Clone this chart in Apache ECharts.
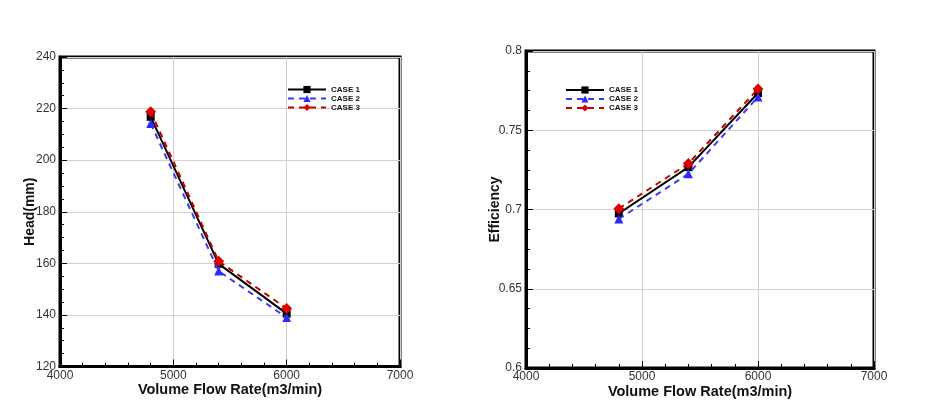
<!DOCTYPE html>
<html>
<head>
<meta charset="utf-8">
<script src="https://cdn.jsdelivr.net/npm/echarts@6/dist/echarts.min.js"></script>
<style>html,body{margin:0;padding:0;background:#fff;}#c{width:932px;height:416px;}</style>
</head>
<body>
<div id="c"></div>
<script>
const flowRates = [4800, 5400, 6000];
const caseNames = ['CASE 1', 'CASE 2', 'CASE 3'];
const headCase1 = [216.8, 159.8, 140.5];
const headCase2 = [214.2, 157.0, 139.0];
const headCase3 = [218.8, 160.8, 142.5];
const effCase1 = [0.6975, 0.7267, 0.7735];
const effCase2 = [0.694, 0.7225, 0.771];
const effCase3 = [0.7005, 0.729, 0.776];

const styles = [
  {line: '#000000', marker: '#000000', type: 'solid', symbol: 'rect', size: 8},
  {line: '#3a3af0', marker: '#2b2bff', type: [6, 5], symbol: 'triangle', size: 9},
  {line: '#c00000', marker: '#e00000', type: [6, 5], symbol: 'diamond', size: 11}
];

const font = '"Liberation Sans", Arial, sans-serif';

function pairs(xs, ys) { return xs.map((x, i) => [x, ys[i]]); }

function mkSeries(gi, vals) {
  return vals.map((v, k) => ({
    name: caseNames[k], type: 'line', xAxisIndex: gi, yAxisIndex: gi,
    data: pairs(flowRates, v), symbol: styles[k].symbol, symbolSize: styles[k].size,
    lineStyle: {color: styles[k].line, width: 2, type: styles[k].type},
    itemStyle: {color: styles[k].marker},
    z: 3 + k, animation: false
  }));
}

function xAx(gi) {
  return {
    type: 'value', gridIndex: gi, min: 4000, max: 7000, interval: 1000,
    name: 'Volume Flow Rate(m3/min)', nameLocation: 'middle', nameGap: 16, nameMoveOverlap: false,
    nameTextStyle: {fontFamily: font, fontWeight: 'bold', fontSize: 14.5, color: '#111'},
    axisLine: {show: true, lineStyle: {color: '#000', width: 3}},
    axisTick: {show: true, inside: true, length: 7, lineStyle: {color: '#000', width: 1}},
    minorTick: {show: true, splitNumber: 5, length: 4, lineStyle: {color: '#000', width: 1}},
    axisLabel: {fontFamily: font, fontSize: 12, color: '#333', margin: 3, formatter: v => String(v)},
    splitLine: {show: true, lineStyle: {color: '#d0d0d0', width: 1}}
  };
}
function yAx(gi, name, min, max, interval, gap) {
  return {
    type: 'value', gridIndex: gi, min: min, max: max, interval: interval,
    name: name, nameLocation: 'middle', nameGap: gap, nameMoveOverlap: false,
    nameTextStyle: {fontFamily: font, fontWeight: 'bold', fontSize: 14, color: '#111'},
    axisLine: {show: true, lineStyle: {color: '#000', width: 3}},
    axisTick: {show: true, inside: true, length: 7, lineStyle: {color: '#000', width: 1}},
    minorTick: {show: true, splitNumber: 4, length: 4, lineStyle: {color: '#000', width: 1}},
    axisLabel: {fontFamily: font, fontSize: 12, color: '#333', margin: 4, formatter: v => String(v)},
    splitLine: {show: true, lineStyle: {color: '#d0d0d0', width: 1}}
  };
}
function leg(left, top) {
  return {
    data: caseNames, orient: 'vertical', left: left, top: top,
    itemWidth: 38, itemHeight: 9, itemGap: 1, padding: 0,
    textStyle: {fontFamily: font, fontSize: 8, fontWeight: 'bold', color: '#111'}
  };
}

const chart = echarts.init(document.getElementById('c'), null, {renderer: 'canvas'});
chart.setOption({
  backgroundColor: '#fff',
  animation: false,
  grid: [
    {left: 60, top: 57, width: 340, height: 309.5, show: true, borderColor: '#000', borderWidth: 3},
    {left: 526, top: 51, width: 348, height: 317, show: true, borderColor: '#000', borderWidth: 3}
  ],
  xAxis: [xAx(0), xAx(1)],
  yAxis: [yAx(0, 'Head(mm)', 120, 240, 20, 23), yAx(1, 'Efficiency', 0.6, 0.8, 0.05, 24)],
  legend: [leg(287, 85.5), leg(565, 86)],
  series: [].concat(mkSeries(0, [headCase1, headCase2, headCase3]), mkSeries(1, [effCase1, effCase2, effCase3]))
});
</script>
</body>
</html>
